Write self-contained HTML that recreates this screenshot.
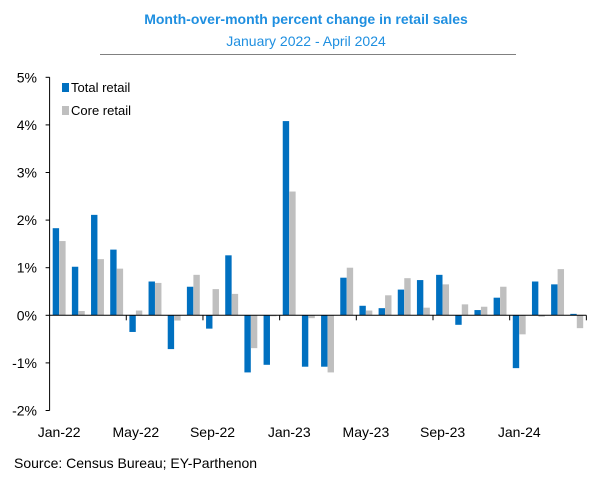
<!DOCTYPE html>
<html><head><meta charset="utf-8"><style>
body{margin:0;background:#fff;width:612px;height:480px;overflow:hidden;font-family:"Liberation Sans",Arial,sans-serif}
</style></head><body>
<svg width="612" height="480" xmlns="http://www.w3.org/2000/svg" font-family="Liberation Sans, Arial, sans-serif">
<text x="306" y="24" text-anchor="middle" font-size="14" font-weight="bold" fill="#1F8FE0">Month-over-month percent change in retail sales</text>
<text x="306" y="46" text-anchor="middle" font-size="14" fill="#1F8FE0">January 2022 - April 2024</text>
<line x1="100" y1="54.5" x2="516" y2="54.5" stroke="#808080" stroke-width="1"/>
<g id="plot"></g>
<rect x="62" y="83" width="7" height="9" fill="#0070C0"/>
<text x="71" y="92" font-size="13" fill="#000">Total retail</text>
<rect x="62" y="106" width="7" height="9" fill="#BFBFBF"/>
<text x="71" y="115" font-size="13" fill="#000">Core retail</text>
<text x="14" y="468" font-size="14" fill="#000">Source: Census Bureau; EY-Parthenon</text>
</svg>
<script>
const categories=["Jan-22","Feb-22","Mar-22","Apr-22","May-22","Jun-22","Jul-22","Aug-22","Sep-22","Oct-22","Nov-22","Dec-22","Jan-23","Feb-23","Mar-23","Apr-23","May-23","Jun-23","Jul-23","Aug-23","Sep-23","Oct-23","Nov-23","Dec-23","Jan-24","Feb-24","Mar-24","Apr-24"];
const totalRetail=[1.83,1.02,2.11,1.38,-0.35,0.71,-0.71,0.60,-0.28,1.26,-1.20,-1.04,4.08,-1.08,-1.08,0.79,0.20,0.15,0.54,0.74,0.85,-0.20,0.11,0.37,-1.11,0.71,0.65,0.03];
const coreRetail=[1.56,0.09,1.18,0.98,0.10,0.68,-0.11,0.85,0.55,0.45,-0.69,-0.02,2.60,-0.06,-1.20,1.00,0.10,0.42,0.78,0.16,0.65,0.23,0.18,0.60,-0.40,-0.03,0.97,-0.27];
const yTicks=[-2,-1,0,1,2,3,4,5];
const xLabelIdx=[0,4,8,12,16,20,24];
const NS="http://www.w3.org/2000/svg";
const g=document.getElementById("plot");
const x0=49.6,cw=19.17,yZero=315.3,ppu=47.6;
function xs(i){return x0+i*cw;}
function ys(v){return yZero-v*ppu;}
function mk(t,a){const e=document.createElementNS(NS,t);for(const k in a)e.setAttribute(k,a[k]);g.appendChild(e);return e;}
// y axis
let ax=mk("line",{x1:x0,y1:ys(5),x2:x0,y2:ys(-2),stroke:"#000","stroke-width":1});


yTicks.forEach(v=>{
  const t=mk("line",{x1:x0-4,y1:ys(v),x2:x0,y2:ys(v),stroke:"#000"});
  
  
  const l=mk("text",{x:37,y:ys(v)+5,"text-anchor":"end","font-size":14,fill:"#000"});
  l.textContent=v+"%";
  
  
});
// bars
categories.forEach((c,i)=>{
  [[totalRetail[i],3.1,"#0070C0","bar-total"],[coreRetail[i],9.6,"#BFBFBF","bar-core"]].forEach(([v,off,col,nm])=>{
    const y=Math.min(ys(v),yZero),h=Math.abs(ys(v)-yZero);
    const r=mk("rect",{x:xs(i)+off,y:y,width:6.4,height:Math.max(h,0.5),fill:col});
    
    
  });
});
// x axis
let xa=mk("line",{x1:x0,y1:yZero,x2:xs(categories.length),y2:yZero,stroke:"#000","stroke-width":1});


for(let i=4;i<=categories.length;i+=4){
  const t=mk("line",{x1:xs(i),y1:yZero,x2:xs(i),y2:yZero+5,stroke:"#000"});
  
  
}
xLabelIdx.forEach(i=>{
  const l=mk("text",{x:xs(i)+cw/2,y:437,"text-anchor":"middle","font-size":14,fill:"#000"});
  l.textContent=categories[i];
  
  
});
</script>
</body></html>
